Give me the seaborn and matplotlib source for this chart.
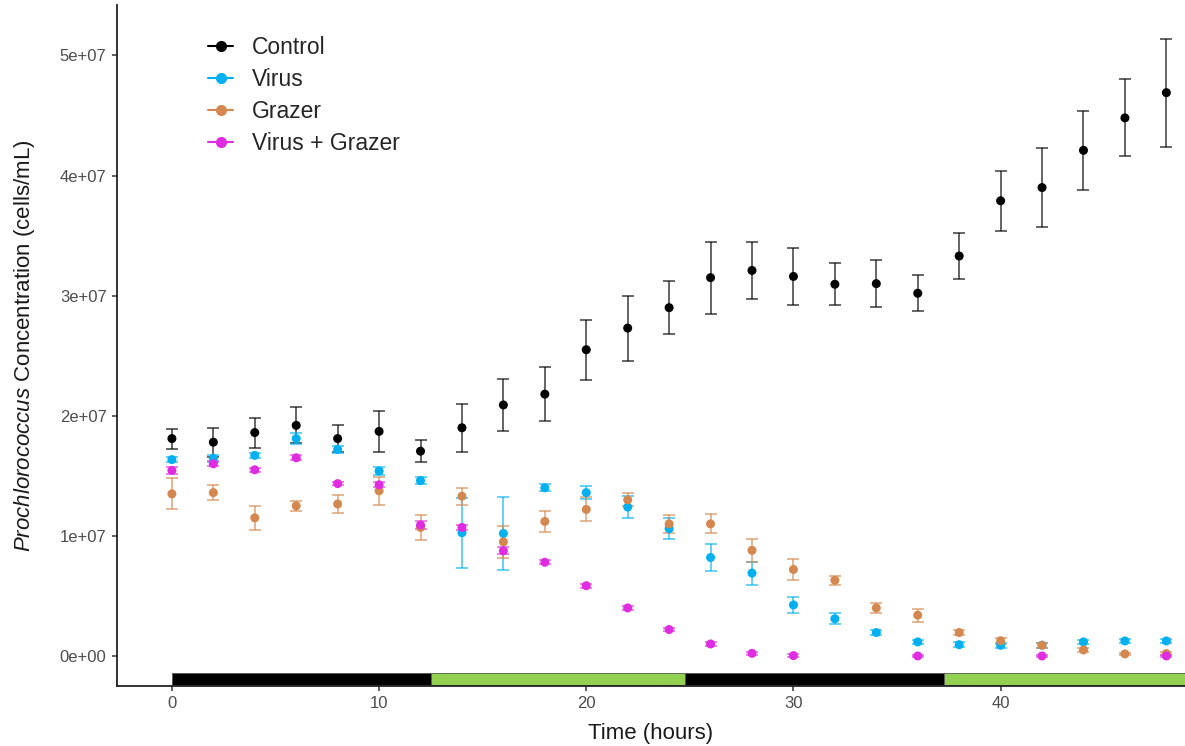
import numpy as np
import pandas as pd
import matplotlib
matplotlib.use("Agg")
import matplotlib.pyplot as plt
from matplotlib.lines import Line2D
import seaborn as sns

time_h = [0, 2, 4, 6, 8, 10, 12, 14, 16, 18, 20, 22, 24, 26, 28, 30, 32, 34, 36, 38, 40, 42, 44, 46, 48]

control_mean = [1.81, 1.78, 1.86, 1.92, 1.81, 1.87, 1.705, 1.90, 2.09, 2.18, 2.55, 2.73, 2.90, 3.15, 3.21, 3.16,
                3.095, 3.10, 3.02, 3.33, 3.79, 3.90, 4.21, 4.48, 4.69]
control_err = [0.083, 0.12, 0.125, 0.15, 0.115, 0.17, 0.09, 0.20, 0.22, 0.225, 0.25, 0.27, 0.22, 0.30, 0.24, 0.24,
               0.175, 0.195, 0.15, 0.195, 0.25, 0.33, 0.33, 0.32, 0.45]

virus_mean = [1.635, 1.645, 1.67, 1.81, 1.72, 1.54, 1.46, 1.026, 1.02, 1.40, 1.36, 1.24, 1.06, 0.82, 0.69, 0.425,
              0.31, 0.195, 0.117, 0.094, 0.089, 0.09, 0.117, 0.125, 0.125]
virus_err = [0.02, 0.03, 0.02, 0.045, 0.03, 0.03, 0.03, 0.29, 0.305, 0.03, 0.055, 0.09, 0.09, 0.115, 0.095, 0.07,
             0.045, 0.02, 0.02, 0.02, 0.02, 0.02, 0.02, 0.02, 0.02]

grazer_mean = [1.35, 1.36, 1.15, 1.25, 1.265, 1.375, 1.07, 1.33, 0.95, 1.12, 1.22, 1.30, 1.10, 1.10, 0.88, 0.72,
               0.63, 0.40, 0.34, 0.195, 0.127, 0.089, 0.05, 0.017, 0.02]
grazer_err = [0.13, 0.06, 0.10, 0.04, 0.075, 0.115, 0.105, 0.07, 0.135, 0.09, 0.10, 0.055, 0.075, 0.08, 0.095, 0.085,
              0.04, 0.045, 0.055, 0.02, 0.025, 0.02, 0.015, 0.01, 0.01]

vg_mean = [1.545, 1.60, 1.55, 1.65, 1.435, 1.425, 1.09, 1.07, 0.875, 0.78, 0.585, 0.40, 0.22, 0.10, 0.022, 0.003,
           np.nan, np.nan, 0.0, np.nan, np.nan, 0.0, np.nan, np.nan, 0.0]
vg_err = [0.03, 0.02, 0.015, 0.02, 0.015, 0.02, 0.03, 0.02, 0.03, 0.015, 0.015, 0.015, 0.015, 0.015, 0.01, 0.01,
          np.nan, np.nan, 0.01, np.nan, np.nan, 0.01, np.nan, np.nan, 0.01]

treatments = ["Control", "Virus", "Grazer", "Virus + Grazer"]
colors = ["#000000", "#00B0F0", "#D4884F", "#E02CE0"]

light_start = [0, 12.5, 24.75, 37.25]
light_len = [12.5, 12.25, 12.5, 11.75]
light_colors = ["#000000", "#92D050", "#000000", "#92D050"]

scale = 1e7
means = [control_mean, virus_mean, grazer_mean, vg_mean]
errs = [control_err, virus_err, grazer_err, vg_err]
frames = []
for name, m, e in zip(treatments, means, errs):
    frames.append(pd.DataFrame({"time": time_h, "conc": np.array(m) * scale,
                                "err": np.array(e) * scale, "treatment": name}))
df = pd.concat(frames, ignore_index=True).dropna()

sns.set_theme(style="ticks")
plt.rcParams["font.family"] = ["Liberation Sans", "DejaVu Sans"]
plt.rcParams["mathtext.fontset"] = "custom"
plt.rcParams["mathtext.it"] = "Liberation Sans:italic"
plt.rcParams["mathtext.rm"] = "Liberation Sans"

fig = plt.figure(figsize=(11.85, 7.46), dpi=100)
ax = fig.add_axes([117 / 1185, 60 / 746, 1 - 117 / 1185, 681 / 746])

for name, col in zip(treatments, colors):
    sub = df[df.treatment == name]
    ax.errorbar(sub.time, sub.conc, yerr=sub.err, fmt="none", ecolor=col, alpha=0.65,
                elinewidth=1.3, capsize=4.5, capthick=1.3, zorder=2)

sns.scatterplot(data=df, x="time", y="conc", hue="treatment", palette=dict(zip(treatments, colors)),
                hue_order=treatments, s=42, edgecolor="none", legend=False, ax=ax, zorder=3)

ax.broken_barh(list(zip(light_start, light_len)), (-2.45e6, 1.0e6), facecolors=light_colors,
               edgecolor="#555555", linewidth=0.6, zorder=2)

ax.set_xlim(-2.65, 48.9)
ax.set_ylim(-2.5e6, 5.42e7)
ax.set_xticks([0, 10, 20, 30, 40])
ax.set_yticks([0, 1e7, 2e7, 3e7, 4e7, 5e7])
ax.set_yticklabels(["0e+00", "1e+07", "2e+07", "3e+07", "4e+07", "5e+07"])
ax.tick_params(axis="both", labelsize=12, labelcolor="#4D4D4D", color="#333333", length=3.5, width=1.1, pad=4)
for s in ["top", "right"]:
    ax.spines[s].set_visible(False)
for s in ["left", "bottom"]:
    ax.spines[s].set_linewidth(1.3)
    ax.spines[s].set_color("#222222")

ax.set_xlabel("Time (hours)", fontsize=16, color="#1a1a1a", labelpad=8)
ax.set_ylabel(r"$\it{Prochlorococcus}$ Concentration (cells/mL)", fontsize=16, color="#1a1a1a", labelpad=16)

handles = [Line2D([0], [0], color=c, marker="o", markersize=7, lw=1.5) for c in colors]
leg = ax.legend(handles, treatments, loc="upper left", bbox_to_anchor=(0.066, 0.985), frameon=False,
                fontsize=16.5, handlelength=1.1, handletextpad=0.8, labelspacing=0.4)

fig.savefig("out.png", dpi=100)
